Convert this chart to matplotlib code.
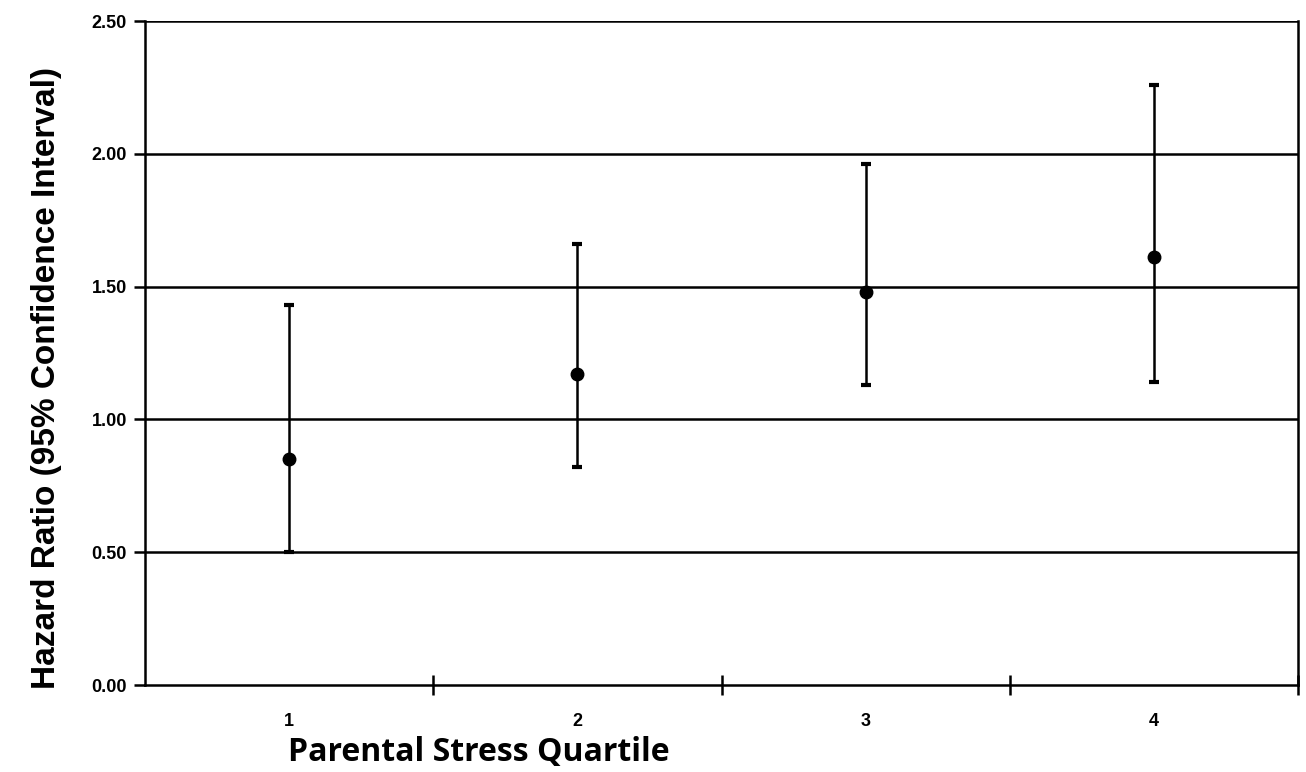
import numpy as np
import matplotlib.pyplot as plt

quartiles = [1, 2, 3, 4]
hr = [0.85, 1.17, 1.48, 1.61]
ci_low = [0.50, 0.82, 1.13, 1.14]
ci_high = [1.43, 1.66, 1.96, 2.26]
yticks = [0.0, 0.5, 1.0, 1.5, 2.0, 2.5]

fig = plt.figure(figsize=(13.06, 7.72), dpi=100)
ax = fig.add_axes([145/1306, 1 - 685/772, (1298-145)/1306, (685-21)/772])

for y in yticks[1:]:
    ax.axhline(y, color='black', lw=1.8, zorder=1)

err = [np.array(hr) - np.array(ci_low), np.array(ci_high) - np.array(hr)]
ax.errorbar(quartiles, hr, yerr=err, fmt='o', color='black', ms=9,
            elinewidth=1.8, capsize=3.5, capthick=3, zorder=3)

ax.set_xlim(0.5, 4.5)
ax.set_ylim(0, 2.5)
ax.set_yticks(yticks)
ax.set_yticklabels(['%.2f' % v for v in yticks], fontsize=13,
                   family='Liberation Sans', fontweight='bold')
ax.set_xticks([1.5, 2.5, 3.5, 4.5])
ax.set_xticklabels([])
ax.set_xticks(quartiles, minor=True)
ax.set_xticklabels([str(q) for q in quartiles], minor=True, fontsize=13,
                   family='Liberation Sans', fontweight='bold')
ax.tick_params(axis='x', which='major', direction='inout', length=14, width=1.8)
ax.tick_params(axis='x', which='minor', length=0, pad=20)
ax.tick_params(axis='y', direction='out', length=8, width=1.8, pad=5)

ax.spines['top'].set_visible(False)
for s in ['left', 'right', 'bottom']:
    ax.spines[s].set_linewidth(1.8)

fig.text(479/1306, 1 - 752/772, 'Parental Stress Quartile', fontsize=23,
         fontweight='bold', family='Open Sans', ha='center', va='center')
fig.text(47/1306, 1 - 378/772, 'Hazard Ratio (95% Confidence Interval)',
         fontsize=24, fontweight='bold', family='Liberation Sans',
         rotation=90, ha='center', va='center')

fig.savefig('out.png', dpi=100)
